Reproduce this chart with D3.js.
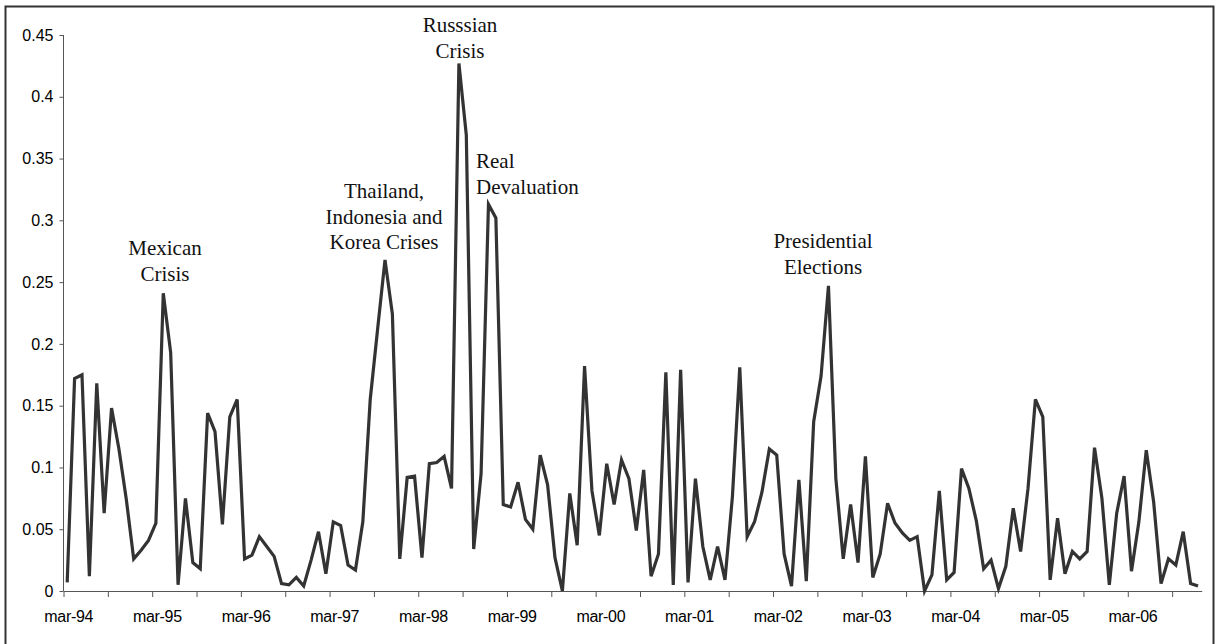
<!DOCTYPE html>
<html>
<head>
<meta charset="utf-8">
<script src="https://cdn.jsdelivr.net/npm/d3@7"></script>
<style>
  body { margin: 0; background: #fff; }
  svg { display: block; }
</style>
</head>
<body>
<div id="chart"></div>
<script>
// monthly series, mar-94 .. dec-06
const values = [
  0.007, 0.172, 0.175, 0.012, 0.168, 0.063, 0.148, 0.115, 0.074, 0.026,
  0.033, 0.041, 0.055, 0.241, 0.193, 0.005, 0.075, 0.023, 0.018, 0.144,
  0.129, 0.054, 0.141, 0.155, 0.026, 0.029, 0.044, 0.036, 0.028, 0.006,
  0.005, 0.011, 0.004, 0.025, 0.048, 0.014, 0.056, 0.053, 0.021, 0.017,
  0.056, 0.155, 0.212, 0.268, 0.224, 0.026, 0.092, 0.093, 0.027, 0.103,
  0.104, 0.109, 0.083, 0.427, 0.369, 0.034, 0.095, 0.313, 0.302, 0.070,
  0.068, 0.088, 0.058, 0.050, 0.110, 0.086, 0.027, 0.000, 0.079, 0.037,
  0.182, 0.081, 0.045, 0.103, 0.070, 0.106, 0.091, 0.049, 0.098, 0.012,
  0.030, 0.177, 0.005, 0.179, 0.007, 0.091, 0.036, 0.009, 0.036, 0.009,
  0.076, 0.181, 0.044, 0.056, 0.080, 0.115, 0.110, 0.030, 0.004, 0.090,
  0.008, 0.137, 0.174, 0.247, 0.091, 0.026, 0.070, 0.023, 0.109, 0.011,
  0.030, 0.071, 0.055, 0.047, 0.041, 0.044, 0.000, 0.013, 0.081, 0.009,
  0.015, 0.099, 0.083, 0.057, 0.018, 0.025, 0.002, 0.020, 0.067, 0.032,
  0.083, 0.155, 0.141, 0.009, 0.059, 0.014, 0.032, 0.026, 0.032, 0.116,
  0.075, 0.005, 0.063, 0.093, 0.016, 0.056, 0.114, 0.072, 0.006, 0.026,
  0.021, 0.048, 0.006, 0.004
];
const xTickLabels = [
  "mar-94", "mar-95", "mar-96", "mar-97", "mar-98", "mar-99", "mar-00",
  "mar-01", "mar-02", "mar-03", "mar-04", "mar-05", "mar-06"
];
const yTicks = [0, 0.05, 0.1, 0.15, 0.2, 0.25, 0.3, 0.35, 0.4, 0.45];
const yTickLabels = ["0", "0.05", "0.1", "0.15", "0.2", "0.25", "0.3", "0.35", "0.4", "0.45"];
const notes = [
  { lines: ["Mexican", "Crisis"], x: 165, y: 255, anchor: "middle" },
  { lines: ["Thailand,", "Indonesia and", "Korea Crises"], x: 384, y: 198, anchor: "middle" },
  { lines: ["Russsian", "Crisis"], x: 460, y: 32, anchor: "middle" },
  { lines: ["Real", "Devaluation"], x: 476, y: 168, anchor: "start" },
  { lines: ["Presidential", "Elections"], x: 823, y: 248, anchor: "middle" }
];

const width = 1217;
const height = 644;
const margin = { left: 63.5, right: 15.3, top: 35, bottom: 53 };

const svg = d3.select("#chart")
  .append("svg")
  .attr("width", width)
  .attr("height", height);

// outer frame (extends past the bottom edge, like the source)
svg.append("rect")
  .attr("x", 5.5).attr("y", 6.5)
  .attr("width", 1208).attr("height", 660)
  .attr("fill", "none")
  .attr("stroke", "#333")
  .attr("stroke-width", 2);

const xScale = d3.scaleLinear()
  .domain([0, values.length])
  .range([margin.left, width - margin.right]);
const yScale = d3.scaleLinear()
  .domain([0, 0.45])
  .range([height - margin.bottom, margin.top]);

const yAxis = svg.append("g")
  .attr("transform", `translate(${margin.left},0)`)
  .call(d3.axisLeft(yScale).tickValues(yTicks).tickSize(4).tickPadding(6)
    .tickFormat((d, i) => yTickLabels[i]));
yAxis.select(".domain").attr("stroke", "#555").attr("d",
  `M0,${yScale(0)}V${yScale(0.45)}`);
yAxis.selectAll("line").attr("stroke", "#555");
yAxis.selectAll("text")
  .attr("font-family", "Liberation Sans, Arial, sans-serif")
  .attr("font-size", 16).attr("fill", "#000");

const xAxis = svg.append("g")
  .attr("transform", `translate(0,${yScale(0)})`)
  .call(d3.axisBottom(xScale).tickValues(d3.range(0, 151, 6)).tickSize(6)
    .tickSizeOuter(0).tickFormat(""));
xAxis.select(".domain").attr("stroke", "#555");
xAxis.selectAll("line").attr("stroke", "#555");

svg.append("g")
  .selectAll("text")
  .data(xTickLabels)
  .join("text")
  .attr("x", (d, i) => xScale(i * 12 + 0.5) + 1.5)
  .attr("y", yScale(0) + 31)
  .attr("text-anchor", "middle")
  .attr("font-family", "Liberation Sans, Arial, sans-serif")
  .attr("font-size", 16)
  .attr("letter-spacing", -0.3)
  .text((d) => d);

const line = d3.line()
  .x((d, i) => xScale(i + 0.5))
  .y((d) => yScale(d));

svg.append("path")
  .datum(values)
  .attr("fill", "none")
  .attr("stroke", "#333")
  .attr("stroke-width", 3.2)
  .attr("stroke-linejoin", "miter")
  .attr("d", line);

const noteGroup = svg.append("g")
  .attr("font-family", "Liberation Serif, Times New Roman, serif")
  .attr("font-size", 21)
  .attr("fill", "#111");
notes.forEach((n) => {
  n.lines.forEach((t, j) => {
    noteGroup.append("text")
      .attr("x", n.x)
      .attr("y", n.y + j * 25.5)
      .attr("text-anchor", n.anchor)
      .text(t);
  });
});
</script>
</body>
</html>
